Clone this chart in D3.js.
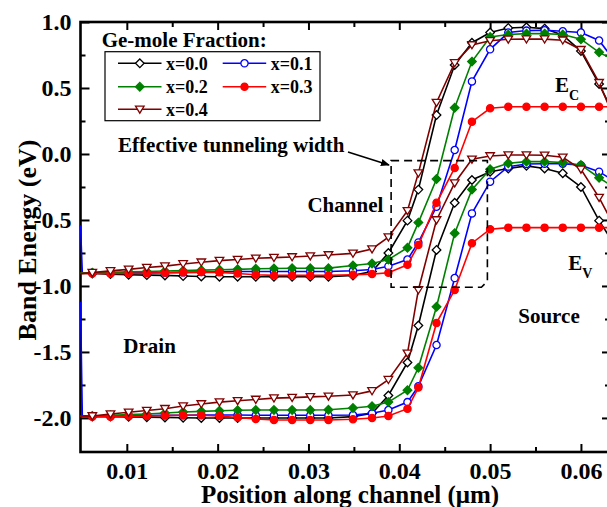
<!DOCTYPE html>
<html>
<head>
<meta charset="utf-8">
<script src="https://cdn.jsdelivr.net/npm/d3@7"></script>
<style>
  body { margin: 0; background: #fff; }
  svg { display: block; }
  text { font-family: "Liberation Serif", "Times New Roman", serif; font-weight: bold; fill: #000; }
</style>
</head>
<body>
<svg id="chart"></svg>
<script>
// position along channel (um), shared by every curve
var pos = [0.0049, 0.0051, 0.0062, 0.0082, 0.0102, 0.0122, 0.0142, 0.0162, 0.0182, 0.0202,
  0.0222, 0.0242, 0.0262, 0.0282, 0.0302, 0.0322, 0.0349, 0.0370, 0.0388, 0.0409,
  0.0421, 0.0441, 0.0461, 0.0480, 0.0500, 0.0520, 0.0540, 0.0560, 0.0580, 0.0600,
  0.0620, 0.0640];

// conduction band Ec (eV)
var ec00 = [-0.905, -0.905, -0.905, -0.91, -0.915, -0.918, -0.92, -0.925, -0.928, -0.93,
  -0.93, -0.93, -0.93, -0.93, -0.93, -0.93, -0.92, -0.89, -0.75, -0.505,
  -0.27, 0.295, 0.674, 0.843, 0.92, 0.955, 0.96, 0.95, 0.90, 0.78,
  0.53, 0.25];
var ec01 = [-0.54, -0.9, -0.9, -0.9, -0.9, -0.9, -0.9, -0.897, -0.895, -0.893,
  -0.89, -0.89, -0.89, -0.89, -0.89, -0.89, -0.885, -0.875, -0.85, -0.80,
  -0.67, -0.40, 0.03, 0.55, 0.793, 0.92, 0.935, 0.937, 0.93, 0.92,
  0.86, 0.68];
var ec02 = [-0.9, -0.9, -0.9, -0.897, -0.893, -0.89, -0.887, -0.884, -0.88, -0.877,
  -0.874, -0.87, -0.868, -0.866, -0.866, -0.865, -0.845, -0.83, -0.80, -0.71,
  -0.52, -0.19, 0.35, 0.70, 0.886, 0.905, 0.912, 0.912, 0.905, 0.87,
  0.77, 0.70];
var ec03 = [-0.905, -0.905, -0.905, -0.905, -0.905, -0.903, -0.9, -0.897, -0.895, -0.897,
  -0.905, -0.915, -0.92, -0.92, -0.92, -0.92, -0.915, -0.91, -0.90, -0.84,
  -0.69, -0.37, -0.106, 0.245, 0.346, 0.358, 0.358, 0.358, 0.358, 0.358,
  0.358, 0.358];
var ec04 = [-0.905, -0.905, -0.899, -0.886, -0.874, -0.86, -0.85, -0.833, -0.82, -0.808,
  -0.80, -0.79, -0.785, -0.78, -0.773, -0.765, -0.753, -0.72, -0.63, -0.43,
  -0.145, 0.39, 0.69, 0.826, 0.858, 0.869, 0.87, 0.87, 0.862, 0.79,
  0.54, 0.215];

// valence band Ev (eV)
var ev00 = [-1.99, -1.99, -1.99, -1.99, -1.992, -1.994, -1.996, -1.998, -2.0, -2.0,
  -2.0, -2.0, -2.0, -2.0, -2.0, -2.0, -1.99, -1.965, -1.83, -1.58,
  -1.30, -0.727, -0.37, -0.197, -0.134, -0.11, -0.09, -0.11, -0.146, -0.25,
  -0.505, -0.72];
var ev01 = [-1.12, -1.985, -1.985, -1.985, -1.983, -1.982, -1.98, -1.98, -1.978, -1.978,
  -1.978, -1.98, -1.98, -1.98, -1.98, -1.98, -1.978, -1.965, -1.94, -1.88,
  -1.76, -1.447, -0.94, -0.45, -0.21, -0.096, -0.076, -0.074, -0.074, -0.085,
  -0.134, -0.22];
var ev02 = [-1.985, -1.985, -1.985, -1.98, -1.975, -1.97, -1.962, -1.955, -1.95, -1.945,
  -1.942, -1.94, -1.94, -1.94, -1.94, -1.938, -1.925, -1.912, -1.88, -1.79,
  -1.62, -1.157, -0.60, -0.27, -0.116, -0.07, -0.058, -0.058, -0.065, -0.083,
  -0.18, -0.27];
var ev03 = [-1.99, -1.99, -1.99, -1.99, -1.988, -1.985, -1.982, -1.98, -1.98, -1.985,
  -1.997, -2.008, -2.015, -2.015, -2.015, -2.015, -2.01, -2.0, -1.985, -1.93,
  -1.77, -1.28, -1.03, -0.676, -0.57, -0.558, -0.558, -0.558, -0.558, -0.558,
  -0.558, -0.558];
var ev04 = [-1.985, -1.985, -1.985, -1.97, -1.957, -1.944, -1.93, -1.91, -1.894, -1.88,
  -1.87, -1.86, -1.85, -1.846, -1.84, -1.836, -1.826, -1.795, -1.71, -1.51,
  -1.03, -0.50, -0.22, -0.04, -0.015, -0.008, -0.008, -0.01, -0.025, -0.116,
  -0.33, -0.59];

var fractions = ["x=0.0", "x=0.1", "x=0.2", "x=0.3", "x=0.4"];
var ecSeries = [ec00, ec01, ec02, ec03, ec04];
var evSeries = [ev00, ev01, ev02, ev03, ev04];

var xTicks = [0.01, 0.02, 0.03, 0.04, 0.05, 0.06];
var xMinor = [0.015, 0.025, 0.035, 0.045, 0.055];
var yTicks = [-2.0, -1.5, -1.0, -0.5, 0.0, 0.5, 1.0];
var yMinor = [-1.75, -1.25, -0.75, -0.25, 0.25, 0.75];

var W = 607, H = 507;
var pLeft = 80.5, pRight = 610, pTop = 22, pBottom = 452;

var styles = [
  { color: "#000000", shape: "diamond",  fill: "#ffffff" },
  { color: "#0000ff", shape: "circle",   fill: "#ffffff" },
  { color: "#008000", shape: "diamond",  fill: "#008000" },
  { color: "#ff0000", shape: "circle",   fill: "#ff0000" },
  { color: "#800000", shape: "triangle", fill: "#ffffff" }
];

function markerPath(shape) {
  if (shape === "diamond") return "M0,-4.3L4.3,0L0,4.3L-4.3,0Z";
  if (shape === "triangle") return "M-4.3,-3.2L4.3,-3.2L0,3.9Z";
  return d3.symbol(d3.symbolCircle, Math.PI * 3.6 * 3.6)();
}

var svg = d3.select("#chart").attr("width", W).attr("height", H);

var x = d3.scaleLinear().domain([0.0049, 0.0632]).range([pLeft, pRight]);
var y = d3.scaleLinear().domain([-2.258, 1.0]).range([pBottom, pTop]);

// axes, ticks pointing inward
function styleAxis(g) {
  g.select(".domain").remove();
  g.selectAll(".tick line").attr("stroke", "#000").attr("stroke-width", 2);
  g.selectAll(".tick text").style("font-size", "24px")
    .style("font-family", "'Liberation Serif','Times New Roman',serif").style("font-weight", "bold");
}
var fmt = function (d) { return d.toFixed(1); };

svg.append("g").attr("transform", "translate(0," + pBottom + ")")
  .call(d3.axisBottom(x).tickValues(xTicks).tickSize(-8).tickPadding(10).tickFormat(function (d) { return d.toFixed(2); }))
  .call(styleAxis);
svg.append("g").attr("transform", "translate(0," + pBottom + ")")
  .call(d3.axisBottom(x).tickValues(xMinor).tickSize(-5).tickFormat(""))
  .call(styleAxis);
svg.append("g").attr("transform", "translate(0," + pTop + ")")
  .call(d3.axisTop(x).tickValues(xTicks).tickSize(-8).tickFormat(""))
  .call(styleAxis);
svg.append("g").attr("transform", "translate(0," + pTop + ")")
  .call(d3.axisTop(x).tickValues(xMinor).tickSize(-5).tickFormat(""))
  .call(styleAxis);
svg.append("g").attr("transform", "translate(" + pLeft + ",0)")
  .call(d3.axisLeft(y).tickValues(yTicks).tickSize(-9).tickPadding(9).tickFormat(fmt))
  .call(styleAxis);
svg.append("g").attr("transform", "translate(" + pLeft + ",0)")
  .call(d3.axisLeft(y).tickValues(yMinor).tickSize(-5).tickFormat(""))
  .call(styleAxis);
svg.append("g").attr("transform", "translate(" + pRight + ",0)")
  .call(d3.axisRight(y).tickValues(yTicks).tickSize(-8).tickFormat(""))
  .call(styleAxis);
svg.append("g").attr("transform", "translate(" + pRight + ",0)")
  .call(d3.axisRight(y).tickValues(yMinor).tickSize(-5).tickFormat(""))
  .call(styleAxis);

svg.append("rect").attr("x", pLeft).attr("y", pTop)
  .attr("width", pRight - pLeft).attr("height", pBottom - pTop)
  .attr("fill", "none").attr("stroke", "#000").attr("stroke-width", 2.6);

// curves
svg.append("clipPath").attr("id", "clip").append("rect")
  .attr("x", pLeft - 1.5).attr("y", pTop - 1).attr("width", pRight - pLeft).attr("height", pBottom - pTop + 2);

var plot = svg.append("g").attr("clip-path", "url(#clip)");
var line = d3.line().x(function (d) { return x(d[0]); }).y(function (d) { return y(d[1]); });

fractions.forEach(function (f, i) {
  var st = styles[i];
  [ecSeries[i], evSeries[i]].forEach(function (vals) {
    var pts = pos.map(function (p, k) { return [p, vals[k]]; });
    plot.append("path").datum(pts).attr("d", line)
      .attr("fill", "none").attr("stroke", st.color).attr("stroke-width", 1.6);
    plot.append("g").selectAll("path").data(pts.slice(2)).enter().append("path")
      .attr("d", markerPath(st.shape))
      .attr("transform", function (d) { return "translate(" + x(d[0]) + "," + y(d[1]) + ")"; })
      .attr("fill", st.fill).attr("stroke", st.color).attr("stroke-width", 1.3);
  });
});

// effective tunneling window
var box = { x0: 0.0391, x1: 0.0497, y0: -0.05, y1: -1.01 };
svg.append("path")
  .attr("d", "M" + x(box.x0) + "," + y(box.y0) + "H" + x(box.x1) + "V" + (y(box.y1) - 6) +
    "L" + (x(box.x1) - 6) + "," + y(box.y1) + "H" + x(box.x0) + "Z")
  .attr("fill", "none").attr("stroke", "#000").attr("stroke-width", 1.6)
  .attr("stroke-dasharray", "8,5");

svg.append("defs").append("marker").attr("id", "arrow")
  .attr("viewBox", "0 0 10 10").attr("refX", 9).attr("refY", 5)
  .attr("markerWidth", 9).attr("markerHeight", 9).attr("markerUnits", "userSpaceOnUse")
  .attr("orient", "auto")
  .append("path").attr("d", "M0,1L10,5L0,9Z").attr("fill", "#000");
svg.append("line")
  .attr("x1", x(0.03435)).attr("y1", y(0.015))
  .attr("x2", x(0.03887)).attr("y2", y(-0.083))
  .attr("stroke", "#000").attr("stroke-width", 1.6).attr("marker-end", "url(#arrow)");

// labels in the plot
function label(txt, xv, yv, anchor) {
  return svg.append("text").attr("x", x(xv)).attr("y", y(yv))
    .attr("text-anchor", anchor || "start").style("font-size", "21px").text(txt);
}
label("Effective tunneling width", 0.00904, 0.0152);
label("Channel", 0.03824, -0.439, "end");
label("Drain", 0.00962, -1.508);
label("Source", 0.0531, -1.28);
var ecLab = label("E", 0.05714, 0.472);
ecLab.append("tspan").attr("dy", 8).style("font-size", "14px").text("C");
var evLab = label("E", 0.0586, -0.879);
evLab.append("tspan").attr("dy", 8).style("font-size", "14px").text("V");

// axis titles
svg.append("text").attr("x", 350).attr("y", 503).attr("text-anchor", "middle")
  .style("font-size", "25px").text("Position along channel (\u03bcm)");
svg.append("text").attr("transform", "translate(36,240) rotate(-90)").attr("text-anchor", "middle")
  .style("font-size", "26px").text("Band Energy (eV)");

// legend
svg.append("text").attr("x", 101.7).attr("y", 47.3).style("font-size", "21px").text("Ge-mole Fraction:");
svg.append("rect").attr("x", 105).attr("y", 51.7).attr("width", 215).attr("height", 69)
  .attr("fill", "#fff").attr("stroke", "#000").attr("stroke-width", 1.2);
var legPos = [[118, 63.3], [222.7, 63.3], [118, 86.7], [222.7, 86.7], [118, 109.3]];
fractions.forEach(function (f, i) {
  var st = styles[i], lx = legPos[i][0], ly = legPos[i][1];
  var g = svg.append("g");
  g.append("line").attr("x1", lx).attr("x2", lx + 43.5).attr("y1", ly).attr("y2", ly)
    .attr("stroke", st.color).attr("stroke-width", 1.6);
  g.append("path").attr("d", markerPath(st.shape))
    .attr("transform", "translate(" + (lx + 21.8) + "," + ly + ")")
    .attr("fill", st.fill).attr("stroke", st.color).attr("stroke-width", 1.3);
  g.append("text").attr("x", lx + 48).attr("y", ly + 6.5).style("font-size", "18px").text(f);
});
</script>
</body>
</html>
